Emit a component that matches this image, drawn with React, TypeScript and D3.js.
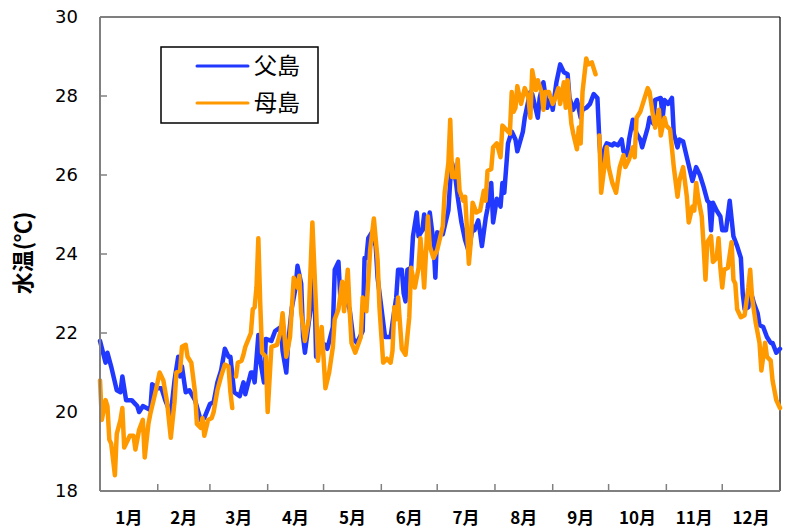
import React from 'react'
import * as d3 from 'd3'

// 月ラベル
const monthLabels = ['1月', '2月', '3月', '4月', '5月', '6月', '7月', '8月', '9月', '10月', '11月', '12月']
const monthDays = [31, 28, 31, 30, 31, 30, 31, 31, 30, 31, 30, 31]
const yTicks = [18, 20, 22, 24, 26, 28, 30]

type Pt = [number, number | null]

// 父島 (通日, 水温)
const chichijima: Pt[] = [
  [0, 21.8], [3, 21.25], [4, 21.5], [6, 21.15], [9, 20.55], [11, 20.5], [12, 20.9], [14, 20.3], [17, 20.3], [19, 20.2],
  [20, 20.15], [21, 20.0], [23, 20.15], [27, 20.05], [28, 20.7], [31, 20.6], [33, 20.6], [35, 20.3], [38, 19.95], [40, 20.8],
  [42, 21.4], [43, 20.9], [44, 21.15], [46, 20.5], [48, 20.55], [51, 20.3], [54, 19.8], [56, 19.85], [59, 20.2], [61, 20.25],
  [63, 20.75], [65, 21.05], [67, 21.6], [69, 21.4], [70, 21.4], [72, 20.5], [75, 20.4], [77, 20.75], [78, 20.45], [81, 21.0],
  [82, 21.0], [83, 20.75], [85, 21.95], [86, 21.3], [88, 20.75], [89, 21.85], [92, 21.8], [94, 22.05], [97, 22.15], [98, 21.55],
  [100, 21.0], [101, 21.75], [103, 22.65], [105, 23.15], [106, 23.7], [108, 23.25], [109, 21.9], [110, 21.5], [112, 22.25], [114, 22.9],
  [115, 23.4], [116, 21.4], [118, 21.75], [121, 21.7], [122, 21.6], [125, 22.15], [126, 23.6], [128, 23.8], [129, 22.9], [132, 22.85],
  [134, 22.6], [136, 21.85], [138, 21.75], [141, 22.05], [142, 23.9], [143, 23.9], [144, 24.4], [146, 24.55], [148, 24.2], [149, 23.4],
  [151, 22.65], [153, 21.9], [156, 21.9], [157, 22.25], [159, 22.9], [160, 23.6], [162, 23.6], [163, 23.0], [164, 22.8], [165, 23.6],
  [167, 23.65], [168, 24.45], [170, 25.05], [171, 24.45], [173, 24.6], [174, 25.0], [176, 24.45], [177, 25.05], [179, 24.3], [180, 23.4],
  [181, 24.55], [184, 24.5], [185, 24.7], [187, 25.1], [188, 25.85], [189, 26.3], [191, 25.85], [192, 25.45], [194, 24.8], [196, 24.35],
  [198, 24.05], [200, 24.7], [201, 24.6], [203, 24.85], [204, 24.55], [205, 24.2], [207, 24.9], [208, 25.15], [210, 25.8], [211, 24.8],
  [213, 25.4], [215, 25.2], [216, 25.8], [217, 25.55], [219, 26.8], [221, 27.1], [223, 26.9], [224, 26.6], [227, 27.1], [228, 27.45],
  [230, 27.9], [231, 28.1], [232, 28.05], [235, 27.45], [236, 27.95], [238, 28.35], [240, 27.7], [242, 27.95], [243, 27.65], [245, 28.35],
  [247, 28.8], [249, 28.6], [251, 28.55], [252, 27.95], [254, 27.65], [256, 27.9], [258, 27.45], [259, 27.65], [261, 27.7], [263, 27.8],
  [265, 28.05], [267, 27.95], [268, 26.9], [269, 26.2], [271, 26.7], [272, 26.8], [275, 26.75], [276, 26.8], [278, 26.75], [280, 26.9],
  [281, 26.6], [283, 26.5], [284, 26.9], [286, 27.4], [288, 27.05], [290, 26.9], [291, 26.7], [294, 27.2], [295, 27.45], [297, 27.3],
  [298, 27.9], [301, 27.95], [302, 27.45], [303, 27.9], [305, 27.8], [307, 27.95], [308, 27.05], [310, 26.7], [311, 26.9], [313, 26.85],
  [315, 26.45], [317, 26.05], [318, 25.85], [320, 26.2], [322, 26.0], [324, 25.7], [326, 25.35], [327, 25.3], [328, 24.6], [329, 25.3],
  [331, 25.1], [333, 24.95], [334, 24.6], [336, 24.6], [338, 25.35], [340, 24.45], [342, 24.2], [344, 23.9], [345, 23.0], [346, 22.6],
  [348, 22.65], [349, 23.1], [351, 22.75], [353, 22.5], [354, 22.2], [356, 22.15], [358, 21.9], [360, 21.75], [361, 21.75], [363, 21.5],
  [365, 21.6],
]

// 母島 (通日, 水温) null = 欠測
const hahajima: Pt[] = [
  [0, 20.8], [1, 19.8], [3, 20.3], [4, 20.15], [5, 19.3], [6, 19.2], [8, 18.4], [9, 19.45], [11, 19.8], [12, 20.1],
  [13, 19.1], [16, 19.4], [18, 19.4], [19, 19.05], [21, 19.55], [23, 19.8], [24, 18.85], [26, 19.7], [27, 19.95], [30, 20.55],
  [32, 21.0], [34, 20.8], [36, 20.25], [38, 19.35], [40, 20.25], [41, 21.0], [43, 21.05], [44, 21.65], [46, 21.7], [47, 21.4],
  [49, 21.25], [51, 20.5], [52, 19.7], [54, 19.6], [55, 19.85], [56, 19.4], [58, 19.8], [60, 19.85], [61, 20.0], [63, 20.55],
  [65, 20.9], [67, 21.2], [69, 21.15], [70, 20.5], [71, 20.1], [72, null], [73, 20.9], [74, 21.25], [76, 21.3], [77, 21.45],
  [78, 21.65], [81, 22.0], [82, 22.6], [83, 22.65], [84, 23.15], [85, 24.4], [86, 22.75], [87, 21.5], [89, 21.4], [90, 20.0],
  [92, 21.65], [95, 21.7], [97, 22.05], [98, 22.5], [100, 21.4], [102, 21.9], [104, 23.4], [106, 23.15], [107, 23.45], [108, 22.5],
  [110, 21.8], [112, 22.35], [113, 23.6], [114, 24.8], [116, 22.6], [117, 21.3], [119, 22.15], [121, 20.6], [123, 21.0], [125, 21.65],
  [126, 22.35], [128, 22.6], [130, 23.3], [131, 22.55], [133, 23.6], [134, 22.6], [135, 21.75], [137, 21.5], [140, 21.9], [141, 22.9],
  [143, 22.55], [145, 24.1], [147, 24.9], [149, 23.85], [150, 22.65], [152, 21.25], [154, 21.35], [156, 21.25], [157, 21.55], [158, 22.65],
  [159, 22.35], [160, 22.9], [162, 21.6], [164, 21.45], [166, 22.4], [167, 23.65], [169, 23.15], [171, 23.65], [172, 24.4], [173, 23.85],
  [174, 23.15], [176, 24.95], [177, 24.2], [179, 23.9], [181, 24.1], [184, 24.7], [185, 25.55], [187, 26.3], [188, 27.4], [189, 25.95],
  [191, 25.95], [192, 26.4], [193, 25.6], [195, 25.35], [196, 25.45], [198, 23.75], [199, 24.3], [200, 25.3], [202, 25.05], [204, 25.1],
  [206, 25.6], [207, 25.35], [208, 26.1], [210, 26.15], [211, 26.7], [213, 26.8], [215, 26.45], [216, 27.25], [218, 27.15], [220, 27.05],
  [221, 28.1], [222, 27.6], [223, 27.7], [224, 28.25], [226, 27.8], [228, 28.2], [230, 27.95], [231, 27.45], [232, 28.65], [234, 28.15],
  [235, 28.4], [237, 28.1], [238, 27.65], [239, 28.1], [241, 28.1], [243, 27.8], [244, 27.9], [246, 28.2], [247, 27.8], [249, 28.35],
  [250, 27.7], [251, 28.4], [253, 27.3], [254, 27.05], [256, 26.65], [257, 27.2], [258, 26.8], [259, 28.1], [261, 28.95], [262, 28.8],
  [264, 28.85], [265, 28.7], [266, 28.55], [267, null], [268, 27.0], [269, 25.55], [272, 26.7], [273, 26.2], [275, 25.8], [277, 25.55],
  [279, 26.2], [281, 26.5], [282, 26.2], [284, 26.4], [286, 26.7], [287, 26.45], [288, 27.45], [290, 27.6], [292, 27.9], [294, 28.2],
  [295, 28.1], [297, 27.45], [298, 27.2], [300, 27.65], [301, 27.0], [303, 27.45], [304, 27.25], [306, 27.15], [308, 26.2], [310, 25.45],
  [311, 25.85], [313, 26.2], [315, 25.45], [316, 24.8], [318, 25.2], [319, 25.1], [320, 25.8], [321, 25.45], [323, 24.95], [324, 24.2],
  [325, 23.35], [326, 24.3], [328, 24.45], [329, 23.8], [331, 23.9], [332, 24.4], [333, 23.65], [334, 23.15], [335, 23.6], [337, 23.65],
  [339, 24.3], [340, 23.35], [341, 23.25], [342, 22.6], [344, 22.4], [346, 22.45], [348, 23.15], [349, 23.6], [350, 22.9], [352, 22.25],
  [354, 21.75], [355, 21.05], [357, 21.75], [358, 21.4], [360, 21.3], [361, 20.8], [363, 20.3], [365, 20.1],
]

const BLUE = '#2139ff'
const ORANGE = '#ff9900'
const AXIS = '#808080'
const jp = '"Noto Sans CJK JP", "Noto Sans", sans-serif'

export default function App() {
  const width = 785
  const height = 528
  const left = 100, right = 780, top = 17, bottom = 491

  const x = d3.scaleLinear().domain([0, 365]).range([left, right])
  const y = d3.scaleLinear().domain([18, 30]).range([bottom, top])

  const line = d3.line<Pt>()
    .defined(d => d[1] != null)
    .x(d => x(d[0]))
    .y(d => y(d[1] as number))

  const ends = Array.from(d3.cumsum(monthDays))
  const starts = [0, ...ends.slice(0, -1)]

  return (
    <svg width={width} height={height} style={{ position: 'absolute', left: 0, top: 0, background: '#fff' }}>
      {/* 枠 */}
      <line x1={left} x2={right} y1={top} y2={top} stroke='#000' strokeWidth={1.2} />
      <line x1={right} x2={right} y1={top} y2={bottom} stroke='#000' strokeWidth={1.2} />

      {/* y軸 */}
      {yTicks.map(t => (
        <g key={t}>
          <line x1={left} x2={left + 7} y1={y(t)} y2={y(t)} stroke={AXIS} strokeWidth={1.5} />
          <text x={78} y={y(t)} dy='0.35em' textAnchor='end' fontSize={18}
            fontFamily='"DejaVu Sans", Verdana, sans-serif' fill='#000'>{t}</text>
        </g>
      ))}

      {/* x軸 */}
      {ends.slice(0, -1).map(d => (
        <line key={d} x1={x(d)} x2={x(d)} y1={bottom} y2={bottom - 7} stroke={AXIS} strokeWidth={1.5} />
      ))}
      {monthLabels.map((m, i) => (
        <text key={m} x={x((starts[i] + ends[i]) / 2)} y={524} textAnchor='middle'
          fontSize={17} fontWeight='bold' fontFamily={jp} fill='#000'>{m}</text>
      ))}

      <path d={line(chichijima) ?? ''} fill='none' stroke={BLUE} strokeWidth={4.5}
        strokeLinejoin='round' strokeLinecap='round' />
      <path d={line(hahajima) ?? ''} fill='none' stroke={ORANGE} strokeWidth={4.5}
        strokeLinejoin='round' strokeLinecap='round' />

      <line x1={left} x2={left} y1={top} y2={bottom} stroke={AXIS} strokeWidth={2} />
      <line x1={left} x2={right} y1={bottom} y2={bottom} stroke={AXIS} strokeWidth={2} />

      <text transform={`translate(31, 253) rotate(-90)`} textAnchor='middle'
        fontSize={22} fontWeight='bold' fontFamily={jp} fill='#000'>水温(℃)</text>

      {/* 凡例 */}
      <rect x={161} y={47} width={157} height={76} fill='#fff' stroke='#000' strokeWidth={1.5} />
      <line x1={197} x2={248} y1={66} y2={66} stroke={BLUE} strokeWidth={3} strokeLinecap='round' />
      <text x={254} y={66} dy='0.36em' fontSize={23} fontFamily={jp} fill='#000'>父島</text>
      <line x1={197} x2={248} y1={103} y2={103} stroke={ORANGE} strokeWidth={3} strokeLinecap='round' />
      <text x={254} y={103} dy='0.36em' fontSize={23} fontFamily={jp} fill='#000'>母島</text>
    </svg>
  )
}
